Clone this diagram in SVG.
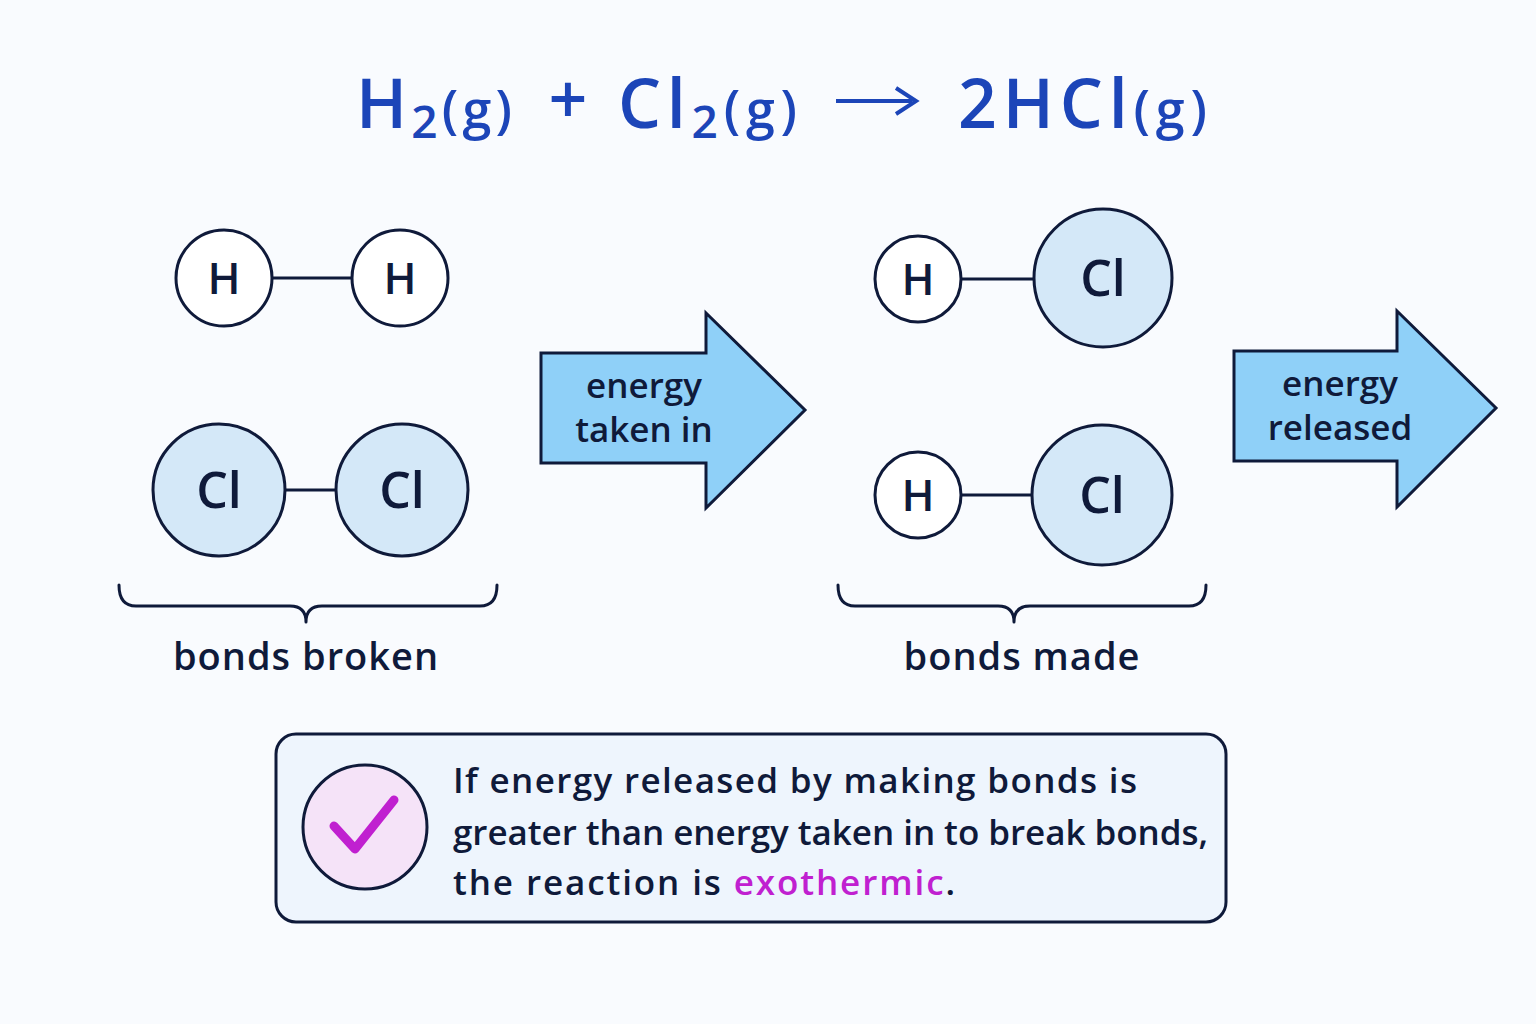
<svg xmlns="http://www.w3.org/2000/svg" width="1536" height="1024" viewBox="0 0 1536 1024">
<style>
.t{font-family:"Open Sans","Liberation Sans",sans-serif;fill:#0f1a3a;font-weight:600}
.atom{stroke:#0f1a3a;stroke-width:3}
.h{fill:#ffffff}
.cl{fill:#d4e8f8}
.bond{stroke:#0f1a3a;stroke-width:3}
.arrow{fill:#8fd0f8;stroke:#0f1a3a;stroke-width:3;stroke-linejoin:miter}
.brace{fill:none;stroke:#0f1a3a;stroke-width:3;stroke-linecap:round;stroke-linejoin:round}
.title{font-family:"Open Sans","Liberation Sans",sans-serif;fill:#1c45b8;font-size:68px;font-weight:600}
</style>
<rect width="1536" height="1024" fill="#f9fbfe"/>
<g id="equation">
<text class="title" x="356" y="128" textLength="156">H<tspan font-size="46" dy="10">2</tspan><tspan dy="-10" font-size="52">(g)</tspan></text>
<text class="title" x="568" y="124" text-anchor="middle">+</text>
<text class="title" x="618" y="128" textLength="179">Cl<tspan font-size="46" dy="10">2</tspan><tspan dy="-10" font-size="52">(g)</tspan></text>
<line x1="836" y1="101" x2="912" y2="101" stroke="#1c45b8" stroke-width="4"/>
<path d="M896 88 L916 101 L896 114" fill="none" stroke="#1c45b8" stroke-width="4"/>
<text class="title" x="958" y="128" textLength="249">2HCl<tspan font-size="52">(g)</tspan></text>
</g>
<g id="connectors">
<line class="bond" x1="272" y1="278" x2="352" y2="278"/>
<line class="bond" x1="285" y1="490" x2="336" y2="490"/>
<line class="bond" x1="961" y1="279" x2="1034" y2="279"/>
<line class="bond" x1="961" y1="495" x2="1032" y2="495"/>
</g>
<g id="h2"><circle class="atom h" cx="224" cy="278" r="48"/><text class="t" x="224" y="294" font-size="44" text-anchor="middle">H</text>
<circle class="atom h" cx="400" cy="278" r="48"/><text class="t" x="400" y="294" font-size="44" text-anchor="middle">H</text></g>
<g id="cl2"><circle class="atom cl" cx="219" cy="490" r="66"/><text class="t" x="219" y="508" font-size="50" text-anchor="middle">Cl</text>
<circle class="atom cl" cx="402" cy="490" r="66"/><text class="t" x="402" y="508" font-size="50" text-anchor="middle">Cl</text></g>
<g id="hcl1"><circle class="atom h" cx="918" cy="279" r="43"/><text class="t" x="918" y="295" font-size="44" text-anchor="middle">H</text>
<circle class="atom cl" cx="1103" cy="278" r="69"/><text class="t" x="1103" y="296" font-size="50" text-anchor="middle">Cl</text></g>
<g id="hcl2"><circle class="atom h" cx="918" cy="495" r="43"/><text class="t" x="918" y="511" font-size="44" text-anchor="middle">H</text>
<circle class="atom cl" cx="1102" cy="495" r="70"/><text class="t" x="1102" y="513" font-size="50" text-anchor="middle">Cl</text></g>
<g id="arrow1"><path class="arrow" d="M541 353 H706 V313 L805 410 L706 508 V463 H541 Z"/>
<text class="t" x="644" y="398" font-size="35" text-anchor="middle">energy</text>
<text class="t" x="644" y="442" font-size="35" text-anchor="middle">taken in</text></g>
<g id="arrow2"><path class="arrow" d="M1234 351 H1397 V311 L1496 408 L1397 507 V461 H1234 Z"/>
<text class="t" x="1340" y="396" font-size="35" text-anchor="middle">energy</text>
<text class="t" x="1340" y="440" font-size="35" text-anchor="middle">released</text></g>
<g id="brace1"><path class="brace" d="M119 585 Q119 606 136 606 H290 Q306 606 306 622 Q306 606 322 606 H480 Q497 606 497 585"/>
<text class="t" x="306" y="670" font-size="38" text-anchor="middle" letter-spacing="1">bonds broken</text></g>
<g id="brace2"><path class="brace" d="M838 585 Q838 606 855 606 H998 Q1014 606 1014 622 Q1014 606 1030 606 H1189 Q1206 606 1206 585"/>
<text class="t" x="1022" y="670" font-size="38" text-anchor="middle" letter-spacing="1">bonds made</text></g>
<g id="note"><rect x="276" y="734" width="950" height="188" rx="20" fill="#eef5fd" stroke="#0f1a3a" stroke-width="3"/>
<circle cx="365" cy="827" r="62" fill="#f5e3f8" stroke="#0f1a3a" stroke-width="3"/>
<path d="M334 826 L355 849 L394 800" fill="none" stroke="#c020d0" stroke-width="9" stroke-linecap="round" stroke-linejoin="round"/>
<g class="t" font-size="35">
<text x="453" y="793" textLength="684">If energy released by making bonds is</text>
<text x="453" y="845" textLength="755">greater than energy taken in to break bonds,</text>
<text x="453" y="895" textLength="502">the reaction is <tspan fill="#c020d0">exothermic</tspan>.</text></g></g>
</svg>
